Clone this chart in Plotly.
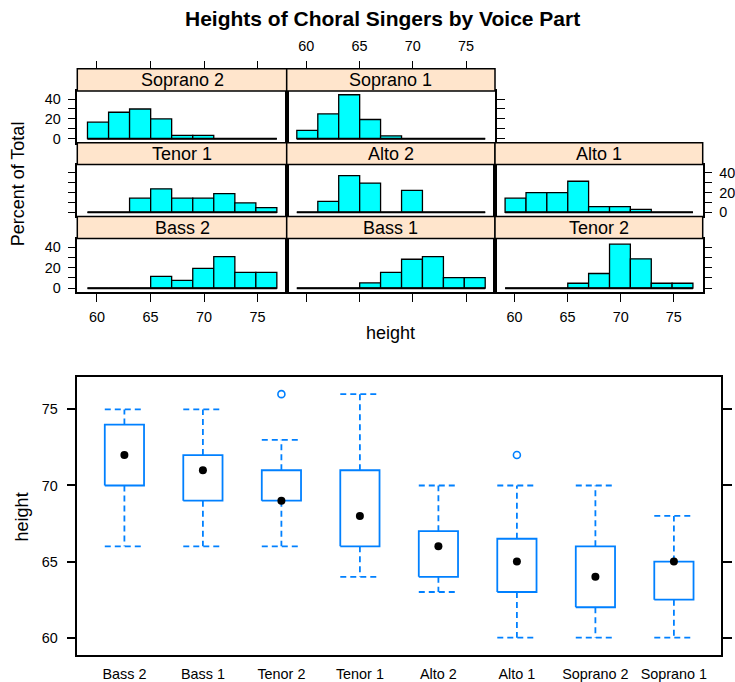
import plotly.graph_objects as go

W, H = 735, 682

# panel order as lattice lays them out (bottom-left first)
voice_parts = ['Bass 2', 'Bass 1', 'Tenor 2', 'Tenor 1', 'Alto 2', 'Alto 1', 'Soprano 2', 'Soprano 1']

# histogram bin edges (inches) and percent of total per bin
breaks = [59.12, 61.09, 63.05, 65.02, 66.98, 68.95, 70.91, 72.88, 74.84, 76.8]
pct_bass2 = [0, 0, 0, 11.5, 7.7, 19.2, 30.8, 15.4, 15.4]
pct_bass1 = [0, 0, 0, 5.1, 15.4, 28.2, 30.8, 10.3, 10.3]
pct_tenor2 = [0, 0, 0, 4.8, 14.3, 42.9, 28.6, 4.8, 4.8]
pct_tenor1 = [0, 0, 14.3, 23.8, 14.3, 14.3, 19.0, 9.5, 4.8]
pct_alto2 = [0, 11.1, 37.0, 29.6, 0, 22.2, 0, 0, 0]
pct_alto1 = [14.3, 20.0, 20.0, 31.4, 5.7, 5.7, 2.9, 0, 0]
pct_soprano2 = [16.7, 26.7, 30.0, 20.0, 3.3, 3.3, 0, 0, 0]
pct_soprano1 = [8.3, 25.0, 44.4, 19.4, 2.8, 0, 0, 0, 0]
pct_all = [pct_bass2, pct_bass1, pct_tenor2, pct_tenor1, pct_alto2, pct_alto1, pct_soprano2, pct_soprano1]

hist_ticks = [60, 65, 70, 75]
pct_ticks = [0, 10, 20, 30, 40]
pct_labels = ['0', '', '20', '', '40']

# boxplot summary per voice part
box_low = [66, 66, 66, 64, 63, 60, 60, 60]
box_q1 = [70, 69, 69, 66, 64, 63, 62, 62.5]
box_med = [72, 71, 69, 68, 66, 65, 64, 65]
box_q3 = [74, 72, 71, 71, 67, 66.5, 66, 65]
box_high = [75, 75, 73, 76, 70, 70, 70, 68]
outlier_part = ['Tenor 2', 'Alto 1']
outlier_height = [76, 72]
height_ticks = [60, 65, 70, 75]

FONT = 'Liberation Sans, Arial, Helvetica, sans-serif'
BLUE = '#0080ff'
TICKFONT = 14.4
TEXTFONT = 18


def fx(x):
    return x / W


def fy(y):
    return 1 - y / H


cols = [(77.3, 286.7), (286.7, 495.0), (495.0, 702.7)]
panel_rows = [(91.7, 144.0), (166.0, 218.3), (240.7, 295.0)]
strip_rows = [(69.3, 91.7), (144.0, 166.0), (218.3, 240.7)]

fig = go.Figure()
layout = dict(width=W, height=H, margin=dict(l=0, r=0, t=0, b=0),
              paper_bgcolor='white', plot_bgcolor='white', showlegend=False,
              font=dict(family=FONT, size=TICKFONT, color='black'))
shapes = []
annotations = []


def label(text, x, y, size, angle=0):
    annotations.append(dict(text=text, xref='paper', yref='paper', x=fx(x), y=fy(y),
                            xanchor='center', yanchor='middle', showarrow=False,
                            textangle=angle, font=dict(size=size)))


centers = [(breaks[i] + breaks[i + 1]) / 2 for i in range(len(breaks) - 1)]
widths = [breaks[i + 1] - breaks[i] for i in range(len(breaks) - 1)]

for i, part in enumerate(voice_parts):
    k = i + 1
    row = 2 - i // 3
    col = i % 3
    xa, ya = 'x%d' % k, 'y%d' % k
    fig.add_trace(go.Bar(x=centers, y=pct_all[i], width=widths, xaxis=xa, yaxis=ya,
                         marker=dict(color='#00ffff', line=dict(color='black', width=1.3))))
    fig.add_trace(go.Scatter(x=[breaks[0], breaks[-1]], y=[0, 0], mode='lines', xaxis=xa, yaxis=ya,
                             line=dict(color='black', width=2)))

    x0, x1 = cols[col]
    py0, py1 = panel_rows[row]
    xax = dict(domain=[fx(x0), fx(x1)], range=[58.17, 77.72], anchor=ya,
               showline=True, mirror=True, linecolor='black', linewidth=1.5,
               showgrid=False, zeroline=False, ticks='', showticklabels=False,
               tickvals=hist_ticks, ticklen=8, tickwidth=1.3, tickcolor='black',
               ticklabelstandoff=3)
    yax = dict(domain=[fy(py1), fy(py0)], range=[-4.1, 48.3], anchor=xa,
               showline=True, mirror=True, linecolor='black', linewidth=1.5,
               showgrid=False, zeroline=False, ticks='', showticklabels=False,
               tickvals=pct_ticks, ticktext=pct_labels, ticklen=8, tickwidth=1.3,
               tickcolor='black', ticklabelstandoff=4)
    if row == 2:
        xax['ticks'] = 'outside'
        xax['showticklabels'] = col != 1
    if col == 0:
        yax['side'] = 'left'
        yax['ticks'] = 'outside'
        yax['showticklabels'] = row != 1
    if (col == 2) or (col == 1 and row == 0):
        yax['side'] = 'right'
        yax['ticks'] = 'outside'
        yax['showticklabels'] = (row == 1)
    layout['xaxis%d' % k] = xax
    layout['yaxis%d' % k] = yax

    sy0, sy1 = strip_rows[row]
    shapes.append(dict(type='rect', xref='paper', yref='paper',
                       x0=fx(x0), x1=fx(x1), y0=fy(sy1), y1=fy(sy0),
                       fillcolor='#ffe5cc', line=dict(color='black', width=1.5)))
    label(part, (x0 + x1) / 2, (sy0 + sy1) / 2 + 0.5, TEXTFONT)

    # top axis ticks sit above the strip in the top row
    if row == 0:
        ov = 10 + col
        layout['xaxis%d' % ov] = dict(overlaying=xa, anchor='free', position=fy(sy0), side='top',
                                      range=[58.17, 77.72], showline=False, showgrid=False,
                                      zeroline=False, ticks='outside', tickvals=hist_ticks,
                                      ticklen=8, tickwidth=1.3, tickcolor='black',
                                      ticklabelstandoff=4, showticklabels=(col == 1))
        fig.add_trace(go.Scatter(x=[None], y=[None], xaxis='x%d' % ov, yaxis=ya,
                                 hoverinfo='skip'))

# ---------------- boxplot ----------------
hw = 0.25
pos = list(range(len(voice_parts)))
bx, by, wx, wy = [], [], [], []
for i in pos:
    bx += [i - hw, i + hw, i + hw, i - hw, i - hw, None]
    by += [box_q1[i], box_q1[i], box_q3[i], box_q3[i], box_q1[i], None]
    wx += [i, i, None, i, i, None, i - hw, i + hw, None, i - hw, i + hw, None]
    wy += [box_q3[i], box_high[i], None, box_q1[i], box_low[i], None,
           box_high[i], box_high[i], None, box_low[i], box_low[i], None]

fig.add_trace(go.Scatter(x=wx, y=wy, mode='lines', xaxis='x9', yaxis='y9',
                         line=dict(color=BLUE, width=1.8, dash='6px,4px')))
fig.add_trace(go.Scatter(x=bx, y=by, mode='lines', xaxis='x9', yaxis='y9',
                         line=dict(color=BLUE, width=1.8)))
fig.add_trace(go.Scatter(x=pos, y=box_med, mode='markers', xaxis='x9', yaxis='y9',
                         marker=dict(color='black', size=8)))
fig.add_trace(go.Scatter(x=[voice_parts.index(p) for p in outlier_part], y=outlier_height,
                         mode='markers', xaxis='x9', yaxis='y9',
                         marker=dict(symbol='circle-open', color=BLUE, size=7,
                                     line=dict(width=1.6))))
fig.add_trace(go.Scatter(x=[None], y=[None], xaxis='x9', yaxis='y10', hoverinfo='skip'))

layout['xaxis9'] = dict(domain=[fx(77.3), fx(721)], range=[-0.6, 7.6], anchor='y9',
                        showline=True, mirror=True, linecolor='black', linewidth=1.5,
                        showgrid=False, zeroline=False, ticks='', ticklabelstandoff=5,
                        tickvals=pos, ticktext=voice_parts)
layout['yaxis9'] = dict(domain=[fy(661), fy(380)], range=[58.85, 77.15], anchor='x9',
                        showline=True, mirror=True, linecolor='black', linewidth=1.5,
                        showgrid=False, zeroline=False, ticks='outside', ticklen=9,
                        tickwidth=1.5, tickcolor='black', tickvals=height_ticks,
                        ticklabelstandoff=6)
layout['yaxis10'] = dict(overlaying='y9', side='right', anchor='x9', range=[58.85, 77.15],
                         showline=False, showgrid=False, zeroline=False, ticks='outside',
                         ticklen=10, tickwidth=1.5, tickcolor='black', tickvals=height_ticks,
                         showticklabels=False)

label('<b>Heights of Choral Singers by Voice Part</b>', 383, 19, 21)
label('Percent of Total', 18, 186, TEXTFONT, -90)
label('height', 390, 336, TEXTFONT)
label('height', 22, 522, TEXTFONT, -90)

layout['shapes'] = shapes
layout['annotations'] = annotations
fig.update_layout(**layout)

# drop the default page margin so the 735x682 figure fills the window exactly
page_fix = ("var s=document.documentElement.style,b=document.body.style;"
            "s.height=b.height='682px';s.overflow=b.overflow='hidden';b.margin='0';")
fig.write_html('out.html', config={'displayModeBar': False}, post_script=page_fix)
